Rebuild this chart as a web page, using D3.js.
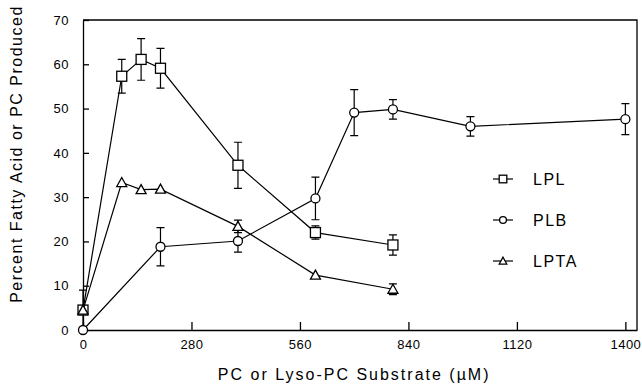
<!DOCTYPE html>
<html>
<head>
<meta charset="utf-8">
<script src="https://cdn.jsdelivr.net/npm/d3@7"></script>
<style>
  body { margin: 0; background: #fff; }
  svg { display: block; font-family: "Liberation Sans", Arial, sans-serif; }
  .axis path, .axis line { stroke: #000; stroke-width: 1.3; }
  .axis text { font-size: 13px; fill: #000; letter-spacing: 0.5px; }
</style>
</head>
<body>
<div id="chart"></div>
<script>
// substrate concentration (uM)
const lplX = [0, 100, 150, 200, 400, 600, 800];
const lplY = [4.5, 57.3, 61.1, 59.1, 37.2, 22.0, 19.2];
const lplErr = [4.5, 3.8, 4.7, 4.5, 5.2, 1.5, 2.3];

const plbX = [0, 200, 400, 600, 700, 800, 1000, 1400];
const plbY = [0, 18.8, 20.1, 29.7, 49.1, 49.8, 46.0, 47.6];
const plbErr = [0, 4.3, 2.5, 4.8, 5.2, 2.2, 2.2, 3.5];

const lptaX = [0, 100, 150, 200, 400, 600, 800];
const lptaY = [4.5, 33.3, 31.7, 31.8, 23.4, 12.4, 9.2];
const lptaErr = [0, 0, 0, 0, 1.4, 0, 1.2];

const xTicks = [0, 280, 560, 840, 1120, 1400];
const yTicks = [0, 10, 20, 30, 40, 50, 60, 70];
const seriesNames = ['LPL', 'PLB', 'LPTA'];

const width = 642, height = 385;
const margin = {top: 20, right: 5, bottom: 55, left: 83};
const w = width - margin.left - margin.right;
const h = height - margin.top - margin.bottom;

const svg = d3.select('#chart').append('svg')
  .attr('width', width).attr('height', height);

const chart = svg.append('g')
  .attr('transform', `translate(${margin.left}, ${margin.top})`);

const xScale = d3.scaleLinear().domain([0, 1430]).range([0, w]);
const yScale = d3.scaleLinear().domain([0, 70]).range([h, 0]);

// frame (top and right)
chart.append('path')
  .attr('d', `M0,0H${w}V${h}`)
  .attr('fill', 'none').attr('stroke', '#000').attr('stroke-width', 1.3);

// axes, ticks pointing inward
chart.append('g')
  .attr('class', 'axis axis-x')
  .attr('transform', `translate(0, ${h})`)
  .call(d3.axisBottom(xScale).tickValues(xTicks).tickFormat(d3.format('d'))
    .tickSizeInner(-8).tickSizeOuter(0).tickPadding(10));
chart.append('g')
  .attr('class', 'axis axis-y')
  .call(d3.axisLeft(yScale).tickValues(yTicks).tickSizeInner(-6).tickSizeOuter(0).tickPadding(14));

const series = [
  {name: seriesNames[0], xs: lplX, ys: lplY, err: lplErr, shape: 'square'},
  {name: seriesNames[1], xs: plbX, ys: plbY, err: plbErr, shape: 'circle'},
  {name: seriesNames[2], xs: lptaX, ys: lptaY, err: lptaErr, shape: 'triangle'}
];

const lineFun = d3.line()
  .x(d => xScale(d[0]))
  .y(d => yScale(d[1]));

function drawMarker(g, shape, cx, cy, r) {
  if (shape === 'square') {
    g.append('rect').attr('x', cx - r).attr('y', cy - r).attr('width', 2 * r).attr('height', 2 * r)
      .attr('fill', '#fff').attr('stroke', '#000').attr('stroke-width', 1.3);
  } else if (shape === 'circle') {
    g.append('circle').attr('cx', cx).attr('cy', cy).attr('r', r * 0.9)
      .attr('fill', '#fff').attr('stroke', '#000').attr('stroke-width', 1.3);
  } else {
    g.append('path').attr('d', `M${cx},${cy - r}L${cx + r},${cy + r * 0.8}L${cx - r},${cy + r * 0.8}Z`)
      .attr('fill', '#fff').attr('stroke', '#000').attr('stroke-width', 1.3);
  }
}

series.forEach(s => {
  const pts = s.xs.map((x, i) => [x, s.ys[i], s.err[i]]);
  const g = chart.append('g').attr('class', 'series');

  g.append('path')
    .datum(pts)
    .attr('d', lineFun)
    .attr('fill', 'none').attr('stroke', '#000').attr('stroke-width', 1.2);

  // error bars
  pts.filter(d => d[2] > 0).forEach(d => {
    const cx = xScale(d[0]);
    const y1 = yScale(d[1] + d[2]), y0 = yScale(d[1] - d[2]);
    g.append('path')
      .attr('d', `M${cx},${y1}V${y0}M${cx - 4},${y1}H${cx + 4}M${cx - 4},${y0}H${cx + 4}`)
      .attr('fill', 'none').attr('stroke', '#000').attr('stroke-width', 1.2);
  });

  pts.forEach(d => drawMarker(g, s.shape, xScale(d[0]), yScale(d[1]), 5));
});

// legend
const legend = svg.append('g').attr('transform', 'translate(493, 179)');
series.forEach((s, i) => {
  const row = legend.append('g').attr('transform', `translate(0, ${i * 41})`);
  row.append('line').attr('x1', 0).attr('x2', 20).attr('y1', 0).attr('y2', 0)
    .attr('stroke', '#000').attr('stroke-width', 1.2);
  drawMarker(row, s.shape, 10, 0, 3.8);
  row.append('text').attr('x', 40).attr('y', 6)
    .style('font-size', '16px').style('letter-spacing', '1.5px').text(s.name);
});

// axis labels
svg.append('text')
  .attr('x', margin.left + xScale(700)).attr('y', 380)
  .attr('text-anchor', 'middle')
  .style('font-size', '16px').style('letter-spacing', '2px')
  .text('PC or Lyso-PC Substrate (\u00b5M)');

svg.append('text')
  .attr('transform', 'translate(22, 154) rotate(-90)')
  .attr('text-anchor', 'middle')
  .style('font-size', '16px').style('letter-spacing', '1.5px')
  .text('Percent Fatty Acid or PC Produced');
</script>
</body>
</html>
